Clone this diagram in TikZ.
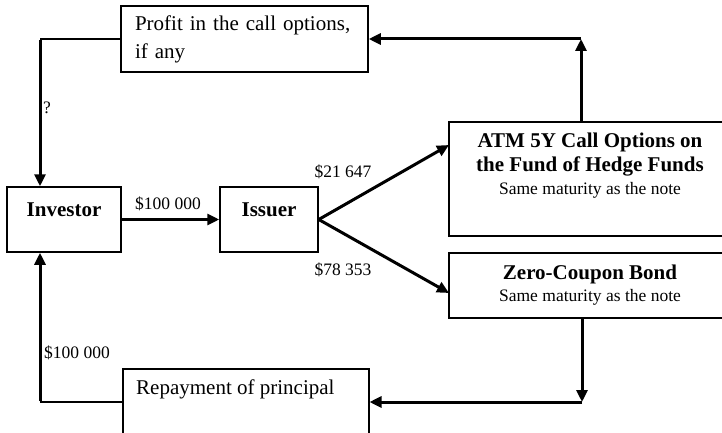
\documentclass[tikz,border=0pt]{standalone}
\usepackage{fontspec}
\setmainfont{Liberation Serif}
\usetikzlibrary{arrows.meta}
\begin{document}
\begin{tikzpicture}[x=1pt,y=-1pt,
  box/.style={draw, line width=1.5pt, rectangle, inner sep=0pt},
  big/.style={font=\fontsize{21}{24}\selectfont},
  bigb/.style={font=\fontsize{21}{24}\selectfont\bfseries},
  small/.style={font=\fontsize{17.5}{20}\selectfont},
  flow/.style={line width=3pt, -{Triangle[length=12pt,width=11pt]}},
  thinline/.style={line width=1.4pt}]
\useasboundingbox (0,0) rectangle (722,433);
\clip (0,0) rectangle (722,433);
\fill[white] (0,0) rectangle (722,433);
% boxes
\node[box, minimum width=247pt, minimum height=66pt, text width=219pt, align=left, inner xsep=14pt,
  font=\fontsize{21}{28}\selectfont] (profit) at (244.5,39) {Profit in the call options,\\if any};
\node[box, minimum width=114pt, minimum height=65pt] (inv) at (64,219.5) {};
\node[bigb] (invtext) at (64,210) {Investor};
\node[box, minimum width=98pt, minimum height=65pt] (iss) at (269,219.5) {};
\node[bigb] (isstext) at (269,210) {Issuer};
\node[box, minimum width=282pt, minimum height=114pt] (atm) at (590,179) {};
\node[align=center, inner sep=0pt, font=\fontsize{21}{24}\selectfont\bfseries] (atmtext) at (590,155) {ATM 5Y Call Options on\\the Fund of Hedge Funds};
\node[small, inner sep=0pt] (atmsub) at (590,190) {Same maturity as the note};
\node[box, minimum width=282pt, minimum height=65pt] (zcb) at (590,285.5) {};
\node[bigb, inner sep=0pt] (zcbtext) at (590,274) {Zero-Coupon Bond};
\node[small, inner sep=0pt] (zcbsub) at (590,297) {Same maturity as the note};
\node[box, minimum width=246pt, minimum height=80pt, anchor=north west] (rep) at (122,368) {};
\node[big, anchor=west, inner sep=0pt] (reptext) at (136,389) {Repayment of principal};
% coordinates
\coordinate (c1) at (581,39);
\coordinate (c2) at (582,402);
\coordinate (c3) at (40,39);
\coordinate (c4) at (40,402);
\coordinate (t1) at (449,145);
\coordinate (t2) at (449,293);
% connectors
\draw[flow] (inv.east) -- (iss.west);
\draw[flow] (iss.east) -- (t1);
\draw[flow] (iss.east) -- (t2);
\draw[flow] (atm.north -| c1) -- (c1);
\draw[flow] (c1) -- (profit.east);
\draw[flow] (zcb.south -| c2) -- (c2);
\draw[flow] (c2) -- (c2 -| rep.east);
\draw[thinline] (profit.west) -- (c3);
\draw[flow] ([yshift=-1pt]c3) -- (c3 |- inv.north);
\draw[thinline] (c4 -| rep.west) -- (c4);
\draw[flow] ([yshift=1pt]c4) -- (c4 |- inv.south);
% labels
\node[small] (l1) at (168,204) {\$100 000};
\node[small] (l2) at (343,172) {\$21 647};
\node[small] (l3) at (343,270) {\$78 353};
\node[small] (l4) at (77,353) {\$100 000};
\node[small] (l5) at (47,108) {?};
\end{tikzpicture}
\end{document}
